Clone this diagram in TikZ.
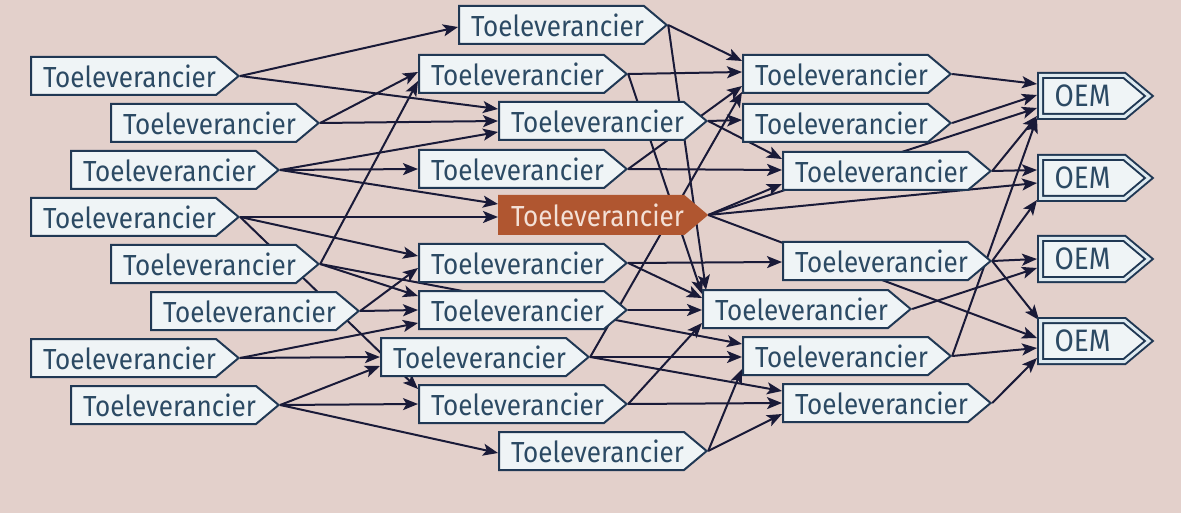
\documentclass[tikz,border=0pt]{standalone}
\usepackage{fontspec}
\setmainfont{Fira Sans}[FakeStretch=0.9]
\usetikzlibrary{shapes.symbols,arrows.meta}
\definecolor{bgc}{RGB}{227,208,203}
\definecolor{boxfill}{RGB}{239,244,246}
\definecolor{boxline}{RGB}{32,56,84}
\definecolor{boxtext}{RGB}{44,74,100}
\definecolor{edgec}{RGB}{25,26,56}
\definecolor{orangec}{RGB}{176,86,48}
\definecolor{orangetext}{RGB}{243,224,214}
\definecolor{oemgap}{RGB}{222,234,240}
\pgfdeclarelayer{bg}
\pgfdeclarelayer{edges}
\pgfsetlayers{bg,edges,main}
\newcommand\lnk[3]{\draw[edge] (#1.east) -- ([yshift=#3pt]#2.west);}
\begin{document}
\begin{tikzpicture}[x=1pt,y=-1pt,
  sup/.style={signal, signal to=east, signal pointer angle=80, draw=boxline,
    fill=boxfill, line width=2pt, minimum height=38pt, inner xsep=0pt,
    inner ysep=0pt, text width=185pt, align=left, text=boxtext,
    font=\fontsize{29}{30}\selectfont, anchor=west},
  focus/.style={sup, fill=orangec, draw=orangec, text=orangetext},
  oem/.style={signal, signal to=east, signal pointer angle=80, draw=boxline,
    double=oemgap, double distance=3pt, line width=2pt, fill=boxfill,
    minimum height=41pt, inner xsep=0pt, inner ysep=0pt, text width=84pt,
    align=center, text=boxtext, font=\fontsize{31}{32}\selectfont,
    anchor=west, outer sep=3.5pt},
  edge/.style={draw=edgec, line width=2pt,
    -{Stealth[length=15pt,width=12pt,inset=3.5pt]}}
]
\useasboundingbox (0,0) rectangle (1181,513);
\begin{pgfonlayer}{bg}
\fill[bgc] (0,0) rectangle (1181,513);
\end{pgfonlayer}

% column A
\node[sup] (A1) at (30,76)  {\hspace*{12pt}Toeleverancier};
\node[sup] (A2) at (110,123) {\hspace*{12pt}Toeleverancier};
\node[sup] (A3) at (70,170) {\hspace*{12pt}Toeleverancier};
\node[sup] (A4) at (30,217) {\hspace*{12pt}Toeleverancier};
\node[sup] (A5) at (110,264) {\hspace*{12pt}Toeleverancier};
\node[sup] (A6) at (150,311) {\hspace*{12pt}Toeleverancier};
\node[sup] (A7) at (30,358) {\hspace*{12pt}Toeleverancier};
\node[sup] (A8) at (70,405) {\hspace*{12pt}Toeleverancier};
% column B
\node[sup] (B1) at (458,25)  {\hspace*{12pt}Toeleverancier};
\node[sup] (B2) at (418,74)  {\hspace*{12pt}Toeleverancier};
\node[sup] (B3) at (498,121) {\hspace*{12pt}Toeleverancier};
\node[sup] (B4) at (418,169) {\hspace*{12pt}Toeleverancier};
\node[focus] (B5) at (498,215) {\hspace*{12pt}Toeleverancier};
\node[sup] (B6) at (418,263) {\hspace*{12pt}Toeleverancier};
\node[sup] (B7) at (418,310) {\hspace*{12pt}Toeleverancier};
\node[sup] (B8) at (380,357) {\hspace*{12pt}Toeleverancier};
\node[sup] (B9) at (418,404) {\hspace*{12pt}Toeleverancier};
\node[sup] (B10) at (498,451) {\hspace*{12pt}Toeleverancier};
% column C
\node[sup] (C1) at (742,74)  {\hspace*{12pt}Toeleverancier};
\node[sup] (C2) at (742,123) {\hspace*{12pt}Toeleverancier};
\node[sup] (C3) at (782,171) {\hspace*{12pt}Toeleverancier};
\node[sup] (C4) at (782,261) {\hspace*{12pt}Toeleverancier};
\node[sup] (C5) at (702,309) {\hspace*{12pt}Toeleverancier};
\node[sup] (C6) at (742,356) {\hspace*{12pt}Toeleverancier};
\node[sup] (C7) at (782,403) {\hspace*{12pt}Toeleverancier};
% OEMs
\node[oem] (O1) at (1037,96)  {OEM};
\node[oem] (O2) at (1037,178) {OEM};
\node[oem] (O3) at (1037,259) {OEM};
\node[oem] (O4) at (1037,341) {OEM};

\begin{pgfonlayer}{edges}
% A -> B
\lnk{A1}{B1}{-2}
\lnk{A1}{B3}{12}
\lnk{A2}{B2}{2}
\lnk{A2}{B3}{0}
\lnk{A3}{B3}{-11}
\lnk{A3}{B4}{0}
\lnk{A3}{B5}{11}
\lnk{A4}{B5}{-2}
\lnk{A4}{B6}{7}
\draw[edge] (A4.east) -- ([yshift=15pt]B9.west);
\lnk{A5}{B2}{-7}
\lnk{A5}{B7}{14}
\lnk{A5}{C6}{12}
\lnk{A6}{B6}{-5}
\lnk{A6}{B7}{0}
\lnk{A7}{B7}{-13}
\lnk{A7}{B8}{0}
\lnk{A8}{B8}{-9}
\lnk{A8}{B9}{0}
\lnk{A8}{B10}{-2}
% B -> C
\lnk{B1}{C1}{13}
\draw[edge] (B1.east) -- ([xshift=4pt,yshift=19pt]C5.west);
\lnk{B2}{C1}{2}
\lnk{B2}{C5}{15}
\lnk{B3}{C2}{3}
\lnk{B3}{C3}{12}
\lnk{B4}{C1}{-12}
\lnk{B4}{C3}{1}
\lnk{B5}{C3}{-13}
\lnk{B6}{C4}{-1}
\lnk{B6}{C5}{11}
\lnk{B7}{C5}{-1}
\draw[edge] (B8.east) -- ([yshift=-18pt]C1.west);
\lnk{B8}{C6}{-1}
\lnk{B8}{C7}{12}
\lnk{B9}{C5}{-14}
\lnk{B9}{C7}{0}
\lnk{B10}{C6}{-13}
\lnk{B10}{C7}{-11}
% -> OEM
\lnk{B5}{O1}{-12}
\lnk{B5}{O2}{-5}
\lnk{B5}{O4}{3}
\lnk{C1}{O1}{12}
\lnk{C2}{O1}{1}
\lnk{C3}{O1}{-20}
\lnk{C3}{O2}{8}
\lnk{C4}{O2}{-22}
\lnk{C4}{O3}{0}
\draw[edge] (C4.east) -- ([xshift=2pt,yshift=21pt]O4.west);
\lnk{C5}{O3}{-9}
\lnk{C6}{O1}{-22}
\lnk{C6}{O4}{-7}
\lnk{C7}{O4}{-17}
\end{pgfonlayer}
\end{tikzpicture}
\end{document}
